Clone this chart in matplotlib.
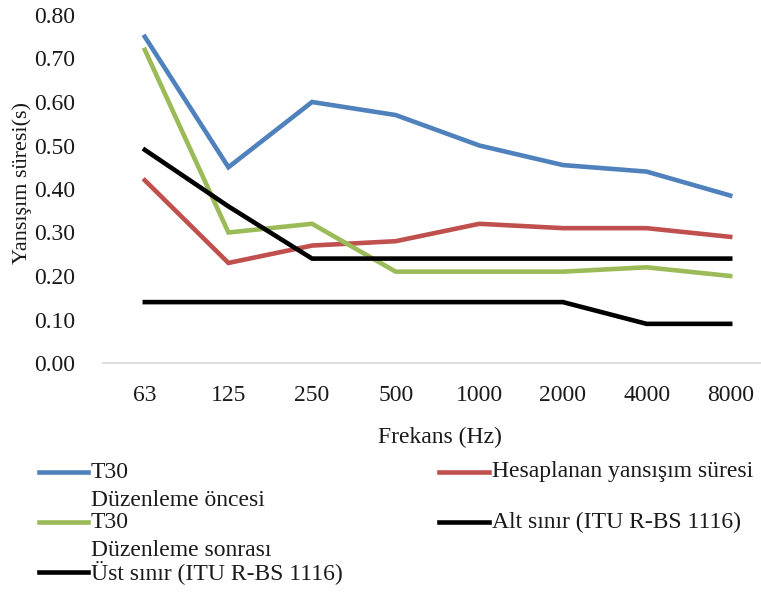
import matplotlib
matplotlib.use("Agg")
import matplotlib.pyplot as plt
from matplotlib.lines import Line2D
import numpy as np

plt.rcParams['font.family'] = ['Liberation Serif', 'DejaVu Serif']

frekans = ['63', '125', '250', '500', '1000', '2000', '4000', '8000']
t30_oncesi = [0.75, 0.45, 0.60, 0.57, 0.50, 0.455, 0.44, 0.385]
hesaplanan = [0.42, 0.23, 0.27, 0.28, 0.32, 0.31, 0.31, 0.29]
t30_sonrasi = [0.72, 0.30, 0.32, 0.21, 0.21, 0.21, 0.22, 0.20]
alt_sinir = [0.14, 0.14, 0.14, 0.14, 0.14, 0.14, 0.09, 0.09]
ust_sinir = [0.49, 0.36, 0.24, 0.24, 0.24, 0.24, 0.24, 0.24]

renk_mavi = '#4F81BD'
renk_kirmizi = '#C0504D'
renk_yesil = '#9BBB59'
yazi = '#1a1a1a'

W, H = 761, 592
fig = plt.figure(figsize=(W / 100, H / 100), dpi=100)

# axes placed in pixel terms; the right edge runs slightly past the canvas
left, right, top, bottom = 103, 772, 15, 363
ax = fig.add_axes([left / W, 1 - bottom / H, (right - left) / W, (bottom - top) / H])

x = np.arange(len(frekans))
lw = 3.3
ax.plot(x, t30_oncesi, color=renk_mavi, lw=lw, solid_joinstyle='miter')
ax.plot(x, hesaplanan, color=renk_kirmizi, lw=lw, solid_joinstyle='miter')
ax.plot(x, t30_sonrasi, color=renk_yesil, lw=lw, solid_joinstyle='miter')
ax.plot(x, alt_sinir, color='black', lw=lw, solid_joinstyle='miter')
ax.plot(x, ust_sinir, color='black', lw=lw, solid_joinstyle='miter')

ax.set_xlim(-0.5, len(frekans) - 0.5)
ax.set_ylim(0, 0.80)
ax.set_yticks(np.arange(0, 0.81, 0.10))
ax.set_yticklabels([f'{v:.2f}' for v in np.arange(0, 0.81, 0.10)])
ax.set_xticks(x)
ax.set_xticklabels(frekans)
ax.tick_params(axis='both', length=0, labelsize=17, colors=yazi)
ax.tick_params(axis='y', pad=20)
ax.tick_params(axis='x', pad=16)

for s in ['top', 'right', 'left']:
    ax.spines[s].set_visible(False)
ax.spines['bottom'].set_color('#D9D9D9')
ax.spines['bottom'].set_linewidth(1.2)

fig.text(22 / W, 1 - 183 / H, 'Yansışım süresi(s)', rotation=90,
         ha='center', va='center', fontsize=16, color=yazi)
fig.text(440 / W, 1 - 437 / H, 'Frekans (Hz)', ha='center', va='center',
         fontsize=17, color=yazi)


# legend drawn by hand so the handles sit on the first text line
def legend_item(x0, x1, y, color, lines):
    fig.add_artist(Line2D([x0 / W, x1 / W], [1 - y / H, 1 - y / H],
                          transform=fig.transFigure, color=color, lw=lw))
    for i, t in enumerate(lines):
        fig.text((x1 + 3) / W, 1 - (y + i * 29) / H, t, ha='left', va='center',
                 fontsize=17, color=yazi)


legend_item(39, 88, 472, renk_mavi, ['T30', 'Düzenleme öncesi'])
legend_item(39, 88, 522, renk_yesil, ['T30', 'Düzenleme sonrası'])
legend_item(39, 88, 572, 'black', ['Üst sınır (ITU R-BS 1116)'])
legend_item(439, 489, 472, renk_kirmizi, ['Hesaplanan yansışım süresi'])
legend_item(439, 489, 522, 'black', ['Alt sınır (ITU R-BS 1116)'])

fig.savefig('out.png', dpi=100)
